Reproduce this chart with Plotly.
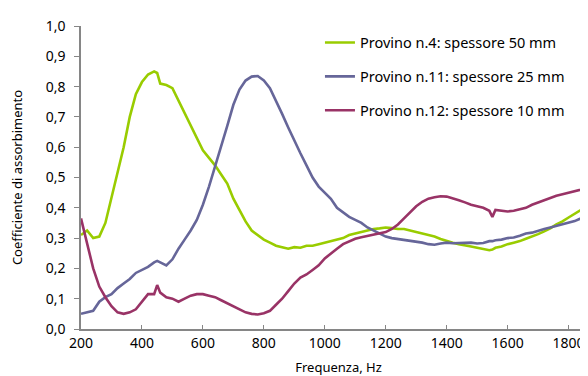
import plotly.graph_objects as go

freq = [200, 220, 240, 260, 280, 300, 320, 340, 360, 380, 400, 420, 440, 450, 460, 480,
        500, 520, 540, 560, 580, 600, 620, 640, 660, 680, 700, 720, 740, 760, 780,
        800, 820, 840, 860, 880, 900, 920, 940, 960, 980, 1000, 1020, 1040, 1060, 1080,
        1100, 1120, 1140, 1160, 1180, 1200, 1220, 1240, 1260, 1280, 1300, 1320, 1340,
        1360, 1380, 1400, 1420, 1440, 1460, 1480, 1500, 1520, 1540, 1550, 1560, 1580,
        1600, 1620, 1640, 1660, 1680, 1700, 1720, 1740, 1760, 1780, 1800, 1820, 1840,
        1860, 1880]

provino4 = [0.31, 0.325, 0.30, 0.305, 0.35, 0.43, 0.51, 0.60, 0.70, 0.775, 0.815, 0.84, 0.85, 0.845, 0.81, 0.805,
            0.795, 0.755, 0.71, 0.675, 0.635, 0.59, 0.565, 0.54, 0.51, 0.48, 0.43, 0.39, 0.355, 0.325, 0.31,
            0.295, 0.285, 0.275, 0.27, 0.265, 0.27, 0.268, 0.275, 0.275, 0.28, 0.285, 0.29, 0.295, 0.30, 0.31,
            0.315, 0.32, 0.325, 0.33, 0.332, 0.335, 0.333, 0.33, 0.33, 0.325, 0.32, 0.315, 0.31,
            0.305, 0.297, 0.29, 0.285, 0.28, 0.277, 0.272, 0.268, 0.264, 0.26, 0.262, 0.268, 0.272,
            0.28, 0.285, 0.29, 0.298, 0.305, 0.313, 0.322, 0.332, 0.345, 0.355, 0.368, 0.38, 0.393,
            0.405, 0.42]

provino11 = [0.05, 0.055, 0.06, 0.09, 0.105, 0.115, 0.135, 0.15, 0.165, 0.185, 0.195, 0.205, 0.22, 0.225, 0.22, 0.21,
             0.23, 0.265, 0.295, 0.325, 0.36, 0.41, 0.47, 0.535, 0.60, 0.67, 0.74, 0.79, 0.82, 0.833, 0.835,
             0.82, 0.795, 0.755, 0.71, 0.665, 0.62, 0.58, 0.54, 0.50, 0.47, 0.45, 0.43, 0.40, 0.385, 0.37,
             0.36, 0.35, 0.335, 0.325, 0.315, 0.305, 0.30, 0.297, 0.295, 0.292, 0.29, 0.285, 0.28,
             0.278, 0.282, 0.285, 0.283, 0.284, 0.283, 0.285, 0.282, 0.284, 0.29, 0.29, 0.293, 0.295,
             0.30, 0.302, 0.308, 0.315, 0.318, 0.325, 0.33, 0.335, 0.34, 0.345, 0.35, 0.356, 0.365,
             0.38, 0.40]

provino12 = [0.365, 0.28, 0.20, 0.14, 0.105, 0.075, 0.055, 0.05, 0.055, 0.065, 0.09, 0.115, 0.115, 0.145, 0.12, 0.105,
             0.10, 0.09, 0.10, 0.11, 0.115, 0.115, 0.11, 0.105, 0.095, 0.085, 0.075, 0.065, 0.055, 0.05, 0.048,
             0.052, 0.06, 0.08, 0.10, 0.125, 0.15, 0.17, 0.18, 0.195, 0.21, 0.233, 0.25, 0.265, 0.28, 0.29,
             0.298, 0.303, 0.307, 0.31, 0.315, 0.32, 0.33, 0.345, 0.365, 0.385, 0.405, 0.42, 0.43,
             0.435, 0.438, 0.437, 0.432, 0.425, 0.418, 0.41, 0.405, 0.40, 0.39, 0.37, 0.393, 0.39,
             0.388, 0.39, 0.395, 0.40, 0.41, 0.418, 0.425, 0.432, 0.44, 0.445, 0.45, 0.455, 0.46,
             0.465, 0.47]

names = ["Provino n.4: spessore 50 mm", "Provino n.11: spessore 25 mm", "Provino n.12: spessore 10 mm"]
colors = ["#99CC00", "#666699", "#993366"]
series = [provino4, provino11, provino12]

FONT = "Noto Sans"
fig = go.Figure()
for i, (nm, col, vals) in enumerate(zip(names, colors, series)):
    fig.add_trace(go.Scatter(x=freq, y=vals, mode="lines", name=nm, legendgroup=str(i),
                             line=dict(color=col, width=2.6)))

fig.update_layout(
    width=588, height=376,
    margin=dict(l=73, r=0, t=18, b=55),
    plot_bgcolor="white", paper_bgcolor="white",
    separators=", ",
    font=dict(family=FONT, size=14, color="#000000"),
    showlegend=True,
    legend=dict(x=0.464, y=0.998, xanchor="left", yanchor="top",
                font=dict(family=FONT, size=14.5), tracegroupgap=12,
                bgcolor="rgba(0,0,0,0)"),
    xaxis=dict(range=[200, 1890], tick0=200, dtick=200, tickformat="d",
               showline=True, linecolor="#868686", linewidth=1.5,
               ticks="inside", ticklen=4, tickcolor="#868686",
               showgrid=False, zeroline=False,
               title=dict(text="Frequenza, Hz", font=dict(size=13), standoff=12),
               tickfont=dict(size=14)),
    yaxis=dict(range=[0, 1.0], dtick=0.1, tickformat=".1f",
               showline=True, linecolor="#868686", linewidth=1.5,
               ticks="outside", ticklen=5, tickcolor="#868686",
               ticklabelstandoff=6,
               showgrid=False, zeroline=False,
               title=dict(text="Coefficiente di assorbimento", font=dict(size=13), standoff=22),
               tickfont=dict(size=14)),
)

fig.write_html("out.html")
